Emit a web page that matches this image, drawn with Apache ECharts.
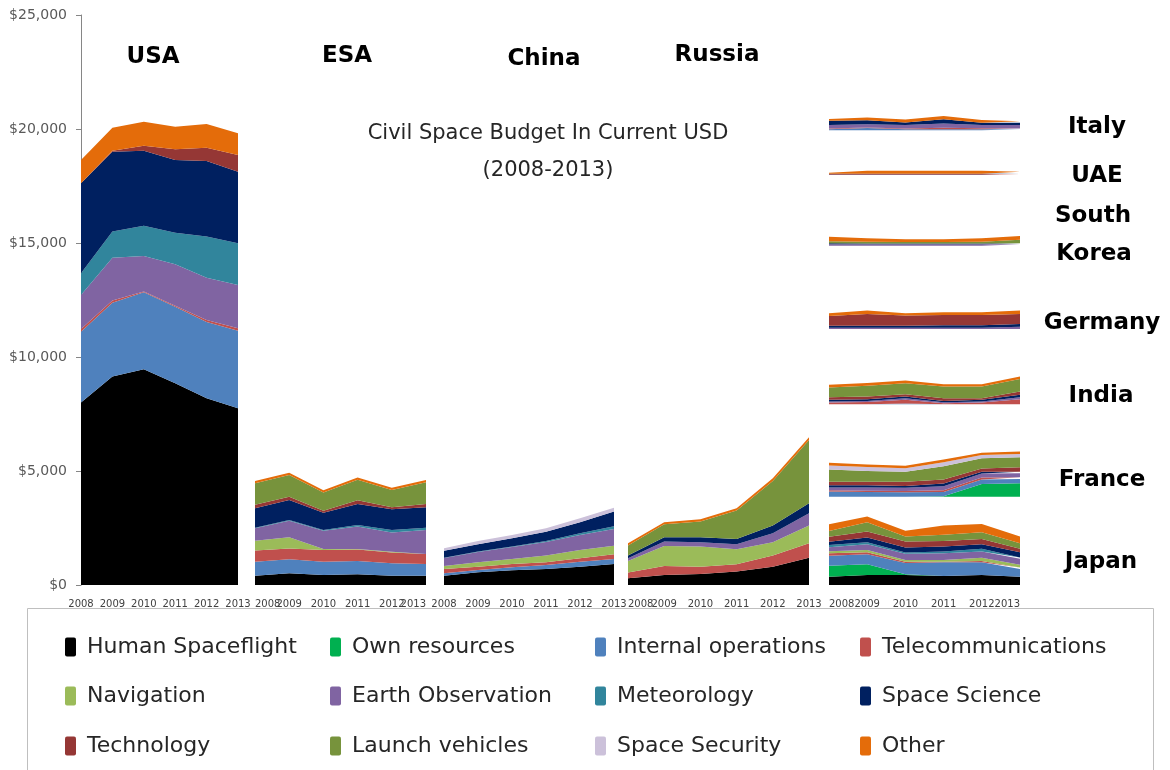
<!DOCTYPE html>
<html>
<head>
<meta charset="utf-8">
<script src="https://cdn.jsdelivr.net/npm/echarts@6/dist/echarts.min.js"></script>
<style>
  html, body { margin: 0; padding: 0; background: #ffffff; }
  #chart { width: 1170px; height: 770px; }
</style>
</head>
<body>
<div id="chart"></div>
<script>
// Fiscal years on every panel
const years = ['2008', '2009', '2010', '2011', '2012', '2013'];

// Budget lines, bottom of the stack first
const categories = [
  'Human Spaceflight', 'Own resources', 'Internal operations', 'Telecommunications',
  'Navigation', 'Earth Observation', 'Meteorology', 'Space Science',
  'Technology', 'Launch vehicles', 'Space Security', 'Other'
];

// Value axis (USD millions)
const yMax = 25000;
const yStep = 5000;

// Civil space budgets, USD millions
const usa = {
  'Human Spaceflight':   [8000, 9140, 9460, 8850, 8190, 7750],
  'Internal operations': [3110, 3240, 3380, 3350, 3340, 3400],
  'Telecommunications':  [120, 100, 30, 50, 90, 110],
  'Earth Observation':   [1490, 1875, 1560, 1815, 1860, 1900],
  'Meteorology':         [950, 1145, 1330, 1385, 1800, 1830],
  'Space Science':       [3950, 3505, 3290, 3190, 3320, 3140],
  'Technology':          [0, 40, 220, 470, 580, 730],
  'Other':               [1020, 1010, 1050, 990, 1040, 950]
};

const esa = {
  'Human Spaceflight':   [410, 510, 440, 470, 410, 410],
  'Internal operations': [610, 615, 585, 580, 540, 510],
  'Telecommunications':  [490, 480, 510, 510, 470, 440],
  'Navigation':          [430, 490, 45, 20, 40, 0],
  'Earth Observation':   [545, 725, 800, 990, 840, 1055],
  'Meteorology':         [30, 30, 30, 60, 110, 100],
  'Space Science':       [850, 875, 760, 920, 910, 890],
  'Technology':          [150, 150, 90, 170, 90, 150],
  'Launch vehicles':     [945, 945, 800, 895, 755, 950],
  'Other':               [100, 100, 100, 100, 100, 100]
};

const china = {
  'Human Spaceflight':   [410, 555, 645, 700, 805, 920],
  'Internal operations': [100, 100, 130, 175, 220, 220],
  'Telecommunications':  [190, 150, 145, 120, 145, 205],
  'Navigation':          [130, 190, 220, 295, 365, 380],
  'Earth Observation':   [350, 450, 525, 600, 655, 730],
  'Meteorology':         [20, 20, 20, 40, 80, 120],
  'Space Science':       [300, 320, 365, 410, 480, 645],
  'Space Security':      [110, 145, 145, 145, 175, 170]
};

const russia = {
  'Human Spaceflight':   [295, 440, 480, 590, 805, 1200],
  'Telecommunications':  [250, 395, 325, 320, 485, 630],
  'Navigation':          [510, 880, 880, 660, 585, 775],
  'Earth Observation':   [120, 190, 190, 220, 395, 540],
  'Space Science':       [120, 190, 220, 230, 335, 440],
  'Launch vehicles':     [440, 570, 690, 1245, 1955, 2775],
  'Other':               [100, 90, 100, 100, 120, 120]
};

const japan = {
  'Human Spaceflight':   [365, 440, 440, 395, 440, 365],
  'Own resources':       [480, 470, 30, 0, 0, 0],
  'Internal operations': [440, 440, 495, 600, 555, 340],
  'Telecommunications':  [110, 90, 60, 30, 60, 60],
  'Navigation':          [90, 100, 75, 75, 145, 120],
  'Earth Observation':   [175, 250, 275, 295, 265, 265],
  'Meteorology':         [90, 90, 45, 70, 120, 55],
  'Space Science':       [145, 200, 220, 220, 205, 235],
  'Technology':          [220, 265, 265, 250, 230, 145],
  'Launch vehicles':     [250, 410, 220, 265, 295, 250],
  'Other':               [295, 245, 250, 410, 365, 290]
};

const france = {
  'Own resources':       [0, 0, 0, 20, 555, 590],
  'Internal operations': [235, 205, 195, 190, 205, 190],
  'Telecommunications':  [55, 55, 55, 75, 90, 75],
  'Earth Observation':   [120, 150, 145, 175, 175, 175],
  'Space Science':       [100, 100, 75, 120, 70, 70],
  'Technology':          [145, 145, 190, 175, 150, 195],
  'Launch vehicles':     [545, 480, 440, 585, 440, 440],
  'Space Security':      [175, 175, 150, 175, 145, 145],
  'Other':               [115, 105, 115, 120, 100, 100]
};

const india = {
  'Internal operations': [0, 0, 30, 0, 0, 0],
  'Telecommunications':  [70, 100, 160, 45, 70, 220],
  'Earth Observation':   [45, 45, 75, 45, 45, 90],
  'Space Science':       [75, 75, 70, 55, 75, 100],
  'Technology':          [120, 115, 105, 120, 75, 145],
  'Launch vehicles':     [420, 470, 480, 510, 510, 545],
  'Other':               [120, 120, 115, 105, 105, 115]
};

const germany = {
  'Earth Observation':   [55, 55, 55, 55, 55, 100],
  'Space Science':       [90, 90, 90, 105, 105, 120],
  'Technology':          [425, 515, 440, 450, 450, 440],
  'Other':               [120, 145, 105, 120, 120, 145]
};

const southKorea = {
  'Earth Observation':   [70, 60, 60, 60, 60, 70],
  'Space Science':       [40, 40, 40, 40, 40, 40],
  'Launch vehicles':     [90, 70, 60, 60, 80, 150],
  'Other':               [195, 155, 120, 120, 145, 165]
};

const uae = {
  'Telecommunications':  [30, 30, 30, 30, 30, 30],
  'Space Science':       [30, 30, 30, 30, 30, 30],
  'Other':               [40, 130, 130, 130, 130, 85]
};

const italy = {
  'Internal operations': [40, 90, 40, 40, 40, 40],
  'Telecommunications':  [30, 30, 30, 60, 40, 30],
  'Earth Observation':   [150, 140, 150, 190, 140, 150],
  'Space Science':       [190, 175, 120, 190, 100, 100],
  'Other':               [75, 120, 130, 145, 120, 75]
};

// Smaller programmes share the last panel, each lifted to its own baseline
const smallProgrammes = [
  { name: 'Japan',       base: 0,     data: japan },
  { name: 'France',      base: 3870,  data: france },
  { name: 'India',       base: 7930,  data: india },
  { name: 'Germany',     base: 11230, data: germany },
  { name: 'South Korea', base: 14880, data: southKorea },
  { name: 'UAE',         base: 17980, data: uae },
  { name: 'Italy',       base: 19950, data: italy }
];

// ---- styling ----
const colors = {
  'Human Spaceflight': '#000000',
  'Own resources': '#00B050',
  'Internal operations': '#4F81BD',
  'Telecommunications': '#C0504D',
  'Navigation': '#9BBB59',
  'Earth Observation': '#8064A2',
  'Meteorology': '#31859C',
  'Space Science': '#002060',
  'Technology': '#953735',
  'Launch vehicles': '#77933C',
  'Space Security': '#CCC1DA',
  'Other': '#E46C0A'
};

const FONT = 'DejaVu Sans';

// Panel frames and how the end year labels sit against the panel edges
const panels = [
  { left: 81,  width: 157, alignMin: 'center', alignMax: 'center' },
  { left: 255, width: 171, alignMin: 'left',   alignMax: 'right' },
  { left: 444, width: 170, alignMin: 'center', alignMax: 'center' },
  { left: 628, width: 181, alignMin: 'left',   alignMax: 'center' },
  { left: 829, width: 191, alignMin: 'left',   alignMax: 'right' }
];

const grid = panels.map(p => ({ left: p.left, width: p.width, top: 15, height: 570 }));

const xAxis = panels.map((p, i) => ({
  type: 'category',
  gridIndex: i,
  data: years,
  boundaryGap: false,
  axisLine: { show: false },
  axisTick: { show: false },
  axisLabel: {
    interval: 0,
    margin: 14,
    fontSize: 10,
    fontFamily: FONT,
    color: '#404040',
    alignMinLabel: p.alignMin,
    alignMaxLabel: p.alignMax
  }
}));

const yAxis = panels.map((p, i) => ({
  type: 'value',
  gridIndex: i,
  min: 0,
  max: yMax,
  interval: yStep,
  show: i === 0,
  splitLine: { show: false },
  axisLine: { show: true, lineStyle: { color: '#868686', width: 1 } },
  axisTick: { show: true, inside: false, length: 5, lineStyle: { color: '#868686' } },
  axisLabel: {
    margin: 14,
    fontSize: 14,
    fontFamily: FONT,
    color: '#595959',
    formatter: v => '$' + v.toLocaleString('en-US')
  }
}));

function areaSeries(name, values, panel, stackId) {
  return {
    name: name,
    type: 'line',
    stack: stackId,
    xAxisIndex: panel,
    yAxisIndex: panel,
    data: values,
    showSymbol: false,
    symbol: 'none',
    lineStyle: { width: 0 },
    itemStyle: { color: colors[name] },
    areaStyle: { color: colors[name], opacity: 1 },
    emphasis: { disabled: true },
    animation: false
  };
}

const series = [];
[usa, esa, china, russia].forEach((block, panel) => {
  categories.forEach(cat => {
    if (block[cat]) series.push(areaSeries(cat, block[cat], panel, 'panel' + panel));
  });
});

smallProgrammes.forEach(prog => {
  const stackId = 'small-' + prog.name;
  series.push({
    name: prog.name + ' baseline',
    type: 'line',
    stack: stackId,
    xAxisIndex: 4,
    yAxisIndex: 4,
    data: years.map(() => prog.base),
    showSymbol: false,
    symbol: 'none',
    silent: true,
    lineStyle: { width: 0, opacity: 0 },
    areaStyle: { opacity: 0 },
    animation: false
  });
  categories.forEach(cat => {
    if (prog.data[cat]) series.push(areaSeries(cat, prog.data[cat], 4, stackId));
  });
});

// Legend: four columns, three rows
const legendCols = [65, 330, 595, 860];
const legendRows = [647, 696, 746];
const legend = categories.map((name, i) => ({
  data: [name],
  left: legendCols[i % 4],
  top: legendRows[Math.floor(i / 4)] - 12,
  padding: 0,
  icon: 'path://M2,0 L9,0 Q11,0 11,2 L11,17 Q11,19 9,19 L2,19 Q0,19 0,17 L0,2 Q0,0 2,0 Z',
  itemWidth: 11,
  itemHeight: 19,
  textStyle: {
    fontFamily: FONT,
    fontSize: 22,
    lineHeight: 24,
    color: '#262626',
    padding: [0, 0, 0, 6]
  }
}));

// Panel titles and chart heading
const labels = [
  { text: 'USA', x: 153, y: 57 },
  { text: 'ESA', x: 347, y: 56 },
  { text: 'China', x: 544, y: 59 },
  { text: 'Russia', x: 717, y: 55 },
  { text: 'Italy', x: 1097, y: 127 },
  { text: 'UAE', x: 1097, y: 176 },
  { text: 'South', x: 1093, y: 216 },
  { text: 'Korea', x: 1094, y: 254 },
  { text: 'Germany', x: 1102, y: 323 },
  { text: 'India', x: 1101, y: 396 },
  { text: 'France', x: 1102, y: 480 },
  { text: 'Japan', x: 1101, y: 562 }
];

const graphic = labels.map(l => ({
  type: 'text',
  silent: true,
  style: {
    text: l.text, x: l.x, y: l.y,
    textAlign: 'center', textVerticalAlign: 'middle',
    fontFamily: FONT, fontSize: 23, fontWeight: 'bold', fill: '#000000'
  }
}));

graphic.push({
  type: 'text',
  silent: true,
  style: {
    text: 'Civil Space Budget In Current USD', x: 548, y: 134,
    textAlign: 'center', textVerticalAlign: 'middle',
    fontFamily: FONT, fontSize: 21, fill: '#262626'
  }
});
graphic.push({
  type: 'text',
  silent: true,
  style: {
    text: '(2008-2013)', x: 548, y: 171,
    textAlign: 'center', textVerticalAlign: 'middle',
    fontFamily: FONT, fontSize: 21, fill: '#262626'
  }
});

// Legend frame
graphic.push({
  type: 'rect',
  silent: true,
  z: -1,
  shape: { x: 27.5, y: 608.5, width: 1126, height: 170 },
  style: { fill: 'none', stroke: '#bfbfbf', lineWidth: 1 }
});

const chart = echarts.init(document.getElementById('chart'), null, { renderer: 'canvas' });
chart.setOption({
  backgroundColor: '#ffffff',
  animation: false,
  grid: grid,
  xAxis: xAxis,
  yAxis: yAxis,
  legend: legend,
  series: series,
  graphic: graphic
});
</script>
</body>
</html>
